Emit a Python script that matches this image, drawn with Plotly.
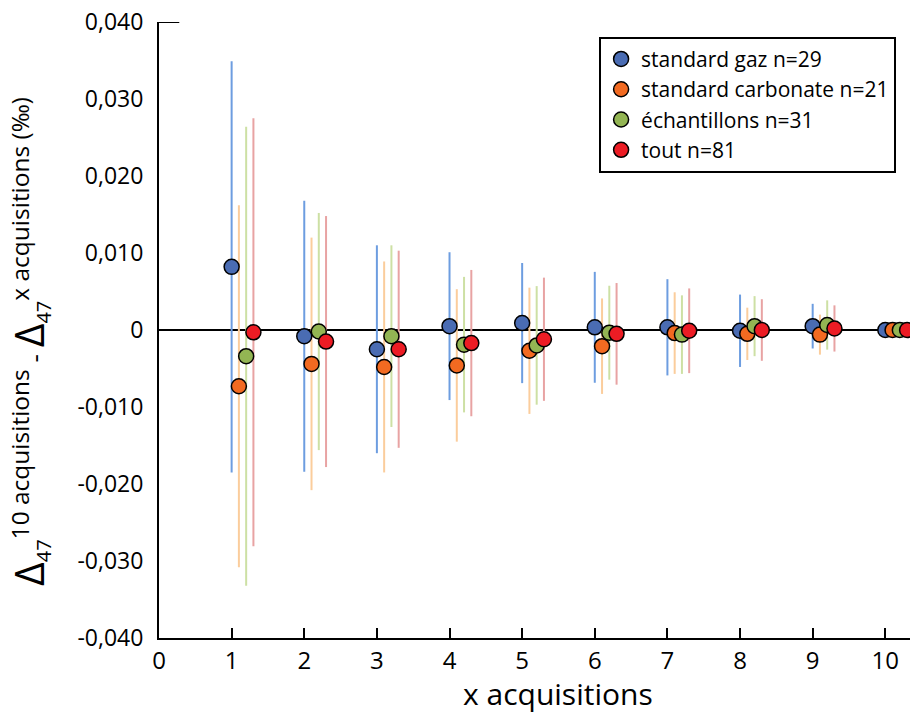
import plotly.graph_objects as go

# ---------------- data ----------------
x_acq = [1, 2, 3, 4, 5, 6, 7, 8, 9, 10]

series_names = ["standard gaz n=29", "standard carbonate n=21",
                "échantillons n=31", "tout n=81"]

gaz_mean = [0.0082, -0.0008, -0.0025, 0.0005, 0.0009, 0.00035, 0.00035, -0.0001, 0.0005, 0.0]
gaz_err = [0.0267, 0.0176, 0.0135, 0.0096, 0.0078, 0.0072, 0.00625, 0.0047, 0.0029, 0.0]

carb_mean = [-0.0073, -0.0044, -0.0048, -0.0046, -0.0027, -0.0021, -0.0004, -0.0005, -0.0006, 0.0]
carb_err = [0.0235, 0.0164, 0.0137, 0.0099, 0.0082, 0.0062, 0.0053, 0.0034, 0.0026, 0.0]

ech_mean = [-0.0034, -0.0002, -0.0008, -0.0019, -0.0020, -0.00035, -0.0006, 0.0005, 0.00065, 0.0]
ech_err = [0.0298, 0.0154, 0.0118, 0.0088, 0.0077, 0.0061, 0.0051, 0.0039, 0.0032, 0.0]

tout_mean = [-0.0003, -0.0015, -0.0025, -0.0017, -0.0012, -0.0005, -0.0001, 0.0, 0.0002, 0.0]
tout_err = [0.0278, 0.0163, 0.0128, 0.0095, 0.0080, 0.0066, 0.0055, 0.0040, 0.0030, 0.0]

y_tickvals = [-0.04, -0.03, -0.02, -0.01, 0, 0.01, 0.02, 0.03, 0.04]
y_ticktext = ["-0,040", "-0,030", "-0,020", "-0,010", "0", "0,010", "0,020", "0,030", "0,040"]
x_tickvals = [0, 1, 2, 3, 4, 5, 6, 7, 8, 9, 10]

# ---------------- style ----------------
offsets = [0.0, 0.1, 0.2, 0.3]
marker_colors = ["#4a6cb3", "#f26a21", "#93b553", "#ec1c24"]
bar_colors = ["#6d9de0", "#fbcd9c", "#cde0a4", "#e8a3a3"]
means = [gaz_mean, carb_mean, ech_mean, tout_mean]
errs = [gaz_err, carb_err, ech_err, tout_err]

FONT = "Open Sans, Liberation Sans, sans-serif"

fig = go.Figure()

# error bars first (so every marker sits on top)
for m, e, off, bc in zip(means, errs, offsets, bar_colors):
    fig.add_trace(go.Scatter(
        x=[xi + off for xi in x_acq], y=m, mode="markers",
        marker=dict(size=1, color="rgba(0,0,0,0)"),
        error_y=dict(type="data", array=e, color=bc, thickness=2, width=0),
        showlegend=False, hoverinfo="skip"))

for m, off, mc, name in zip(means, offsets, marker_colors, series_names):
    fig.add_trace(go.Scatter(
        x=[xi + off for xi in x_acq], y=m, mode="markers", name=name,
        marker=dict(size=15, color=mc, line=dict(color="black", width=1.5))))

fig.update_layout(
    width=910, height=713,
    margin=dict(l=159, r=0, t=22, b=75),
    paper_bgcolor="white", plot_bgcolor="white",
    font=dict(family=FONT, color="black"),
    showlegend=True,
    legend=dict(x=0.586, y=0.976, xanchor="left", yanchor="top",
                bordercolor="black", borderwidth=2, bgcolor="white",
                font=dict(size=21, family=FONT, color="black")),
    xaxis=dict(range=[0, 10.34], tickvals=x_tickvals, showgrid=False,
               zeroline=False, showline=True, linecolor="black", linewidth=2,
               ticks="inside", ticklen=10, tickwidth=1.5, tickcolor="black",
               tickfont=dict(size=24, family=FONT)),
    yaxis=dict(range=[-0.04, 0.04], tickvals=y_tickvals, ticktext=y_ticktext,
               showgrid=False, zeroline=True, zerolinecolor="black",
               zerolinewidth=2, showline=True, linecolor="black", linewidth=2,
               ticks="", tickfont=dict(size=23, family=FONT),
               ticklabelstandoff=9),
)

# short tick at the top of the y axis
fig.add_shape(type="line", xref="paper", yref="y", x0=0, x1=0.027,
              y0=0.04, y1=0.04, line=dict(color="black", width=2))

# x axis title
fig.add_annotation(text="x acquisitions", xref="paper", yref="paper",
                   x=0.531, y=0, xanchor="center", yanchor="middle",
                   yshift=-55, showarrow=False,
                   font=dict(size=30, family=FONT, color="black"))

# y axis title
ylabel = ("<span style='font-size:41px'>Δ</span>"
          "<sub><span style='font-size:20px'>47</span></sub>"
          "<sup>10 acquisitions</sup><span style='font-size:26px'> - </span>"
          "<span style='font-size:41px'>Δ</span>"
          "<sub><span style='font-size:20px'>47</span></sub>"
          "<sup>x acquisitions <span style='font-size:24px'>(‰)</span></sup>")
fig.add_annotation(text=ylabel, textangle=-90, xref="paper", yref="paper",
                   x=0, y=0.5, xanchor="center", yanchor="middle",
                   xshift=-131, yshift=-12, showarrow=False,
                   font=dict(size=35, family=FONT, color="black"))

fig.write_html("out.html",
               config={"displayModeBar": False},
               post_script="document.body.style.margin='0';"
                           "document.body.style.overflow='hidden';")
